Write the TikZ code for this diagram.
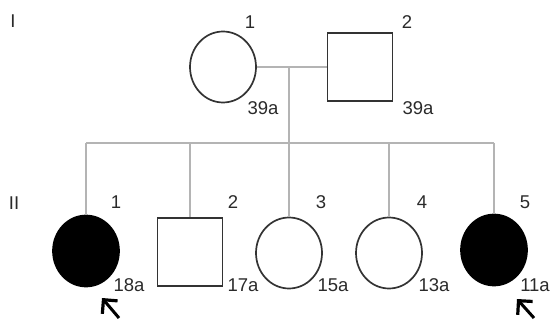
\documentclass[tikz,border=0pt]{standalone}
\usepackage{fontspec}
\setmainfont{Liberation Sans}
\usetikzlibrary{shapes.geometric,arrows.meta}
\definecolor{outline}{HTML}{333333}
\definecolor{linegray}{HTML}{B4B4B4}
\definecolor{ink}{HTML}{2A2A2A}
\tikzset{
  female/.style={ellipse,draw=outline,line width=1.7pt,minimum width=66pt,minimum height=71pt,inner sep=0pt},
  male/.style={rectangle,draw=outline,line width=1.7pt,minimum width=65pt,minimum height=68pt,inner sep=0pt},
  affected/.style={fill=black,draw=black},
  link/.style={draw=linegray,line width=1.2pt},
  lbl/.style={text=ink,inner sep=0pt,font=\fontsize{18.5}{18.5}\selectfont},
  proband/.style={draw=black,line width=3pt,-{Straight Barb[length=10pt,width=20pt,line width=3.2pt]}}
}
\begin{document}
\begin{tikzpicture}[x=1pt,y=-1pt]
\useasboundingbox (0,0) rectangle (553,320);

% generation labels
\node[lbl] (genI) at (13,21) {I};
\node[lbl] (genII) at (14,203) {II};

% generation I
\node[female] (p1) at (223,67) {};
\node[male] (p2) at (360,67) {};
\node[lbl] (n1) at (250,22) {1};
\node[lbl] (n2) at (407,22) {2};
\node[lbl] (a1) at (263,108) {39a};
\node[lbl] (a2) at (418,108) {39a};

% generation II
\node[female,affected] (c1) at (86,251) {};
\node[male] (c2) at (190,252) {};
\node[female] (c3) at (289,253) {};
\node[female] (c4) at (389,253) {};
\node[female,affected] (c5) at (494,250) {};

\node[lbl] (m1) at (116,202) {1};
\node[lbl] (m2) at (233,202) {2};
\node[lbl] (m3) at (321,202) {3};
\node[lbl] (m4) at (422,202) {4};
\node[lbl] (m5) at (525,202) {5};

\node[lbl] (b1) at (129,285) {18a};
\node[lbl] (b2) at (243,285) {17a};
\node[lbl] (b3) at (333,285) {15a};
\node[lbl] (b4) at (434,285) {13a};
\node[lbl] (b5) at (535,285) {11a};

% marriage line and descent
\coordinate (mid) at (289,68);
\coordinate (sib) at (289,143);
\path[link] (p1.east) -- (p2.west);
\path[link] (mid) -- (sib);
\path[link] (c1.north |- sib) -- (c5.north |- sib);
\foreach \k in {1,...,5} {
  \path[link] (c\k.north |- sib) -- (c\k.north);
}

% proband arrows
\coordinate (t1) at (119,318);
\coordinate (h1) at (102,298);
\coordinate (t5) at (534,318);
\coordinate (h5) at (517,299);
\draw[proband] (t1) -- (h1);
\draw[proband] (t5) -- (h5);
\end{tikzpicture}
\end{document}
